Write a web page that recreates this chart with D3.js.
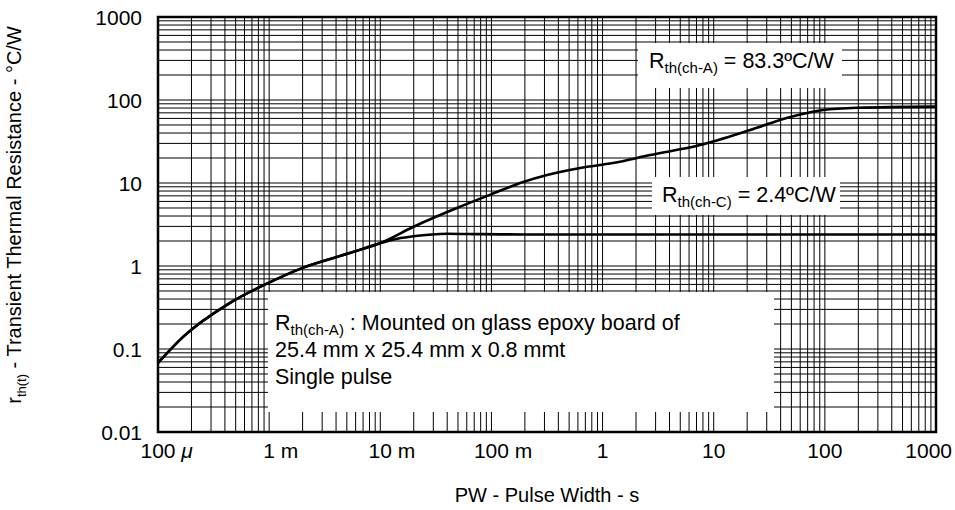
<!DOCTYPE html>
<html>
<head>
    <script src="https://d3js.org/d3.v7.min.js"></script>
    <style>
        body { margin: 0; background: #fff; }
        text { font-family: "Liberation Sans", Arial, sans-serif; fill: #000; }
        .grid line { stroke: #000; stroke-width: 1; }
        .curve { fill: none; stroke: #000; stroke-width: 2.6; stroke-linejoin: round; }
    </style>
</head>
<body>
    <svg width="955" height="510"></svg>
    <script>
        // ---- data ----
        var xTickValues = [1e-4, 1e-3, 1e-2, 1e-1, 1, 10, 100, 1000];
        var xTickNums   = ["100", "1", "10", "100", "1", "10", "100", "1000"];
        var xTickUnits  = ["\u03bc", "m", "m", "m", "", "", "", ""];
        var yTickValues = [0.01, 0.1, 1, 10, 100, 1000];
        var yTickLabels = ["0.01", "0.1", "1", "10", "100", "1000"];

        // channel to ambient (upper curve)
        var pwA  = [1e-4, 1.68e-4, 4.45e-4, 1.02e-3, 2.0e-3, 5.3e-3, 1.06e-2, 1.97e-2, 4.9e-2, 9.7e-2, 0.193, 0.317, 0.628, 1.24, 2.68, 7.55, 21.3, 48.9, 96.8, 196, 1000];
        var rthA = [0.068, 0.14, 0.36, 0.64, 0.95, 1.43, 1.95, 2.95, 5.0, 7.2, 10.3, 12.5, 15.2, 17.4, 21.7, 28.7, 43.5, 62.4, 75.9, 80.5, 83.3];

        // channel to case (lower curve)
        var pwC  = [1e-4, 1.68e-4, 4.45e-4, 1.02e-3, 2.0e-3, 5.3e-3, 1.06e-2, 1.52e-2, 1.97e-2, 4.0e-2, 8.0e-2, 0.2, 1000];
        var rthC = [0.068, 0.14, 0.36, 0.64, 0.95, 1.43, 1.93, 2.17, 2.28, 2.45, 2.42, 2.4, 2.4];

        var svg = d3.select("svg"),
            margin = {top: 17, right: 19, bottom: 78, left: 158},
            width = +svg.attr("width") - margin.left - margin.right,
            height = +svg.attr("height") - margin.top - margin.bottom;

        var fs = 21; // label font size

        var x = d3.scaleLog().domain([1e-4, 1000]).range([0, width]);
        var y = d3.scaleLog().domain([0.01, 1000]).range([height, 0]);

        var g = svg.append("g")
            .attr("transform", "translate(" + margin.left + "," + margin.top + ")");

        // log grid, 1..9 per decade
        var grid = g.append("g").attr("class", "grid");
        grid.selectAll(".vx").data(x.ticks())
            .enter().append("line")
            .attr("x1", function(d) { return x(d); })
            .attr("x2", function(d) { return x(d); })
            .attr("y1", 0).attr("y2", height);
        grid.selectAll(".hy").data(y.ticks())
            .enter().append("line")
            .attr("y1", function(d) { return y(d); })
            .attr("y2", function(d) { return y(d); })
            .attr("x1", 0).attr("x2", width);

        // white label boxes that hide the grid
        function box(x0, y0, w, h) {
            g.append("rect")
                .attr("x", x0 - margin.left).attr("y", y0 - margin.top)
                .attr("width", w).attr("height", h)
                .attr("fill", "#fff");
        }
        box(638, 43, 204, 45);
        box(652, 177, 188, 38);
        box(268, 292, 506, 120);

        function subText(px, py, main, sub, rest, size) {
            var t = svg.append("text")
                .attr("x", px).attr("y", py)
                .style("font-size", size + "px");
            t.append("tspan").text(main);
            t.append("tspan").attr("dy", 5).style("font-size", Math.round(size * 0.68) + "px").text(sub);
            t.append("tspan").attr("dy", -5).text(rest);
            return t;
        }

        subText(649, 68, "R", "th(ch-A)", " = 83.3\u00baC/W", 21.5);
        subText(662, 202, "R", "th(ch-C)", " = 2.4\u00baC/W", 21.5);
        subText(275, 330, "R", "th(ch-A)", " : Mounted on glass epoxy board of", 21.5);
        svg.append("text").attr("x", 275).attr("y", 357).style("font-size", "21.5px")
            .text("25.4 mm x 25.4 mm x 0.8 mmt");
        svg.append("text").attr("x", 275).attr("y", 384).style("font-size", "21.5px")
            .text("Single pulse");

        // curves
        var line = d3.line()
            .x(function(d) { return x(d[0]); })
            .y(function(d) { return y(d[1]); })
            .curve(d3.curveMonotoneX);

        g.append("path").attr("class", "curve")
            .datum(d3.zip(pwC, rthC))
            .attr("d", line);
        g.append("path").attr("class", "curve")
            .datum(d3.zip(pwA, rthA))
            .attr("d", line);

        // frame
        g.append("rect")
            .attr("width", width).attr("height", height)
            .attr("fill", "none").attr("stroke", "#000").attr("stroke-width", 2.5);

        // y tick labels
        g.selectAll(".ylab").data(yTickValues)
            .enter().append("text")
            .attr("x", -16)
            .attr("y", function(d) { return y(d); })
            .attr("dy", "0.36em")
            .attr("text-anchor", "end")
            .style("font-size", fs + "px")
            .text(function(d, i) { return yTickLabels[i]; });

        // x tick labels: number centred on the tick, unit trailing
        xTickValues.forEach(function(v, i) {
            var t = g.append("text")
                .attr("y", height + 26)
                .style("font-size", fs + "px");
            var num = t.append("tspan").text(xTickNums[i]);
            if (xTickUnits[i] === "m") {
                t.append("tspan").text(" m");
            } else if (xTickUnits[i]) {
                t.append("tspan").text(" ");
                t.append("tspan").style("font-style", "italic").text(xTickUnits[i]);
            }
            var w = num.node().getComputedTextLength();
            var full = t.node().getComputedTextLength();
            var left = x(v) - w / 2;
            // keep the last label inside the page
            left = Math.min(left, 952 - margin.left - full);
            t.attr("x", left);
        });

        // axis titles
        svg.append("text")
            .attr("x", margin.left + width / 2)
            .attr("y", 502)
            .attr("text-anchor", "middle")
            .style("font-size", "20px")
            .text("PW - Pulse Width - s");

        var yt = svg.append("text")
            .attr("transform", "translate(21," + 215 + ") rotate(-90)")
            .attr("text-anchor", "middle")
            .style("font-size", "20px");
        yt.append("tspan").text("r");
        yt.append("tspan").attr("dy", 5).style("font-size", "13px").text("th(t)");
        yt.append("tspan").attr("dy", -5).text(" - Transient Thermal Resistance - \u00b0C/W");
    </script>
</body>
</html>
